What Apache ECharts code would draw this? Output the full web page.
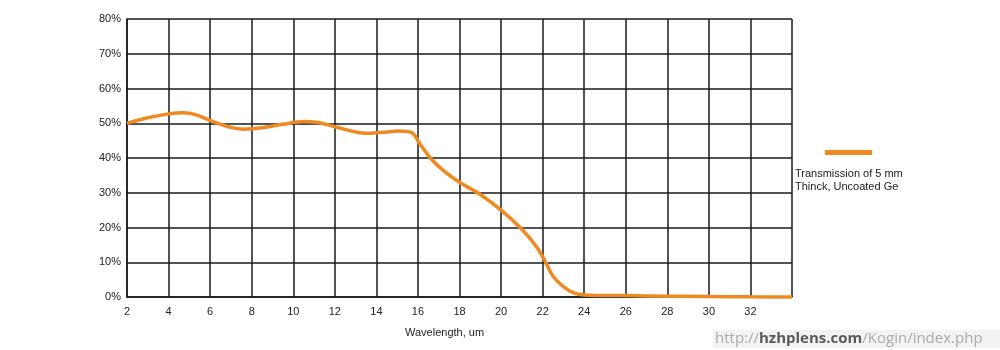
<!DOCTYPE html>
<html>
<head>
<meta charset="utf-8">
<script src="https://cdn.jsdelivr.net/npm/echarts@6/dist/echarts.min.js"></script>
<style>html,body{margin:0;padding:0;background:#fff}#c{width:1000px;height:350px}</style>
</head>
<body>
<div id="c"></div>
<script>
var wavelengths = [2, 3, 4, 4.7, 5.3, 6, 7, 7.6, 8.5, 9.5, 10.5, 11.2, 12, 13, 13.5, 14.3, 15.1, 15.7, 16.1, 16.6, 17.2, 18, 19, 20, 21, 21.7, 22.1, 22.5, 23, 23.5, 24, 26, 28, 30, 32, 34];
var transmission = [50.0, 51.6, 52.7, 53.0, 52.5, 50.8, 48.8, 48.3, 48.7, 49.7, 50.5, 50.2, 49.0, 47.5, 47.1, 47.4, 47.8, 47.3, 44.0, 40.0, 36.5, 33.0, 29.5, 25.0, 19.5, 14.5, 10.5, 6.0, 3.0, 1.2, 0.6, 0.4, 0.25, 0.15, 0.05, 0.0];
var xTicks = [2, 4, 6, 8, 10, 12, 14, 16, 18, 20, 22, 24, 26, 28, 30, 32];
var seriesName = 'Transmission of 5 mm\nThinck, Uncoated Ge';
var xAxisTitle = 'Wavelength, um';
var watermarkParts = ['http://', 'hzhplens.com', '/Kogin/index.php'];

var data = wavelengths.map(function (w, i) { return [w, transmission[i]]; });
var chart = echarts.init(document.getElementById('c'), null, {renderer: 'canvas'});
var font = 'Liberation Sans, Arial, sans-serif';
var wmFont = 'Open Sans, DejaVu Sans, sans-serif';
chart.setOption({
  animation: false,
  backgroundColor: '#fff',
  textStyle: {fontFamily: font},
  grid: {left: 127, right: 208, top: 19, bottom: 53, containLabel: false},
  title: [
    {text: xAxisTitle, left: 405, top: 327, padding: 0, textStyle: {fontSize: 11, fontWeight: 'normal', color: '#222', fontFamily: font}},
    {text: seriesName, left: 795, top: 167, padding: 0, textStyle: {fontSize: 11, fontWeight: 'normal', color: '#222', lineHeight: 13, fontFamily: font}},
    {text: '{a|' + watermarkParts[0] + '}{b|' + watermarkParts[1] + '}{a|' + watermarkParts[2] + '}', left: 713, top: 330,
     backgroundColor: '#f3f3f3', padding: [1, 20, 2, 2],
     textStyle: {fontWeight: 'normal', rich: {
       a: {fontSize: 15, color: '#aaaaaa', fontWeight: 'normal', fontFamily: wmFont},
       b: {fontSize: 15, color: '#5a5a5a', fontWeight: 'bold', fontFamily: wmFont}
     }}}
  ],
  legend: {
    show: true, left: 825, top: 150, padding: 0, itemWidth: 47, itemHeight: 5, icon: 'rect',
    formatter: function () { return ''; }, itemGap: 0,
    data: [{name: seriesName, itemStyle: {color: '#EF8A22'}}]
  },
  xAxis: {
    type: 'value', min: 2, max: 34, interval: 2,
    axisLine: {show: true, lineStyle: {color: '#1a1a1a', width: 1.5}},
    axisTick: {show: false},
    axisLabel: {
      margin: 9, fontSize: 11, color: '#222', fontFamily: font,
      formatter: function (v) { return xTicks.indexOf(v) >= 0 ? String(v) : ''; }
    },
    splitLine: {show: true, lineStyle: {color: '#1a1a1a', width: 1.5}}
  },
  yAxis: {
    type: 'value', min: 0, max: 80, interval: 10,
    axisLine: {show: true, lineStyle: {color: '#1a1a1a', width: 1.5}},
    axisTick: {show: false},
    axisLabel: {margin: 6, fontSize: 11, color: '#222', fontFamily: font, formatter: '{value}%'},
    splitLine: {show: true, lineStyle: {color: '#1a1a1a', width: 1.5}}
  },
  series: [{
    name: seriesName, type: 'line', data: data, smooth: 0.35, showSymbol: false,
    lineStyle: {color: '#EF8A22', width: 3.5}, itemStyle: {color: '#EF8A22'}, clip: false
  }]
});
</script>
</body>
</html>
